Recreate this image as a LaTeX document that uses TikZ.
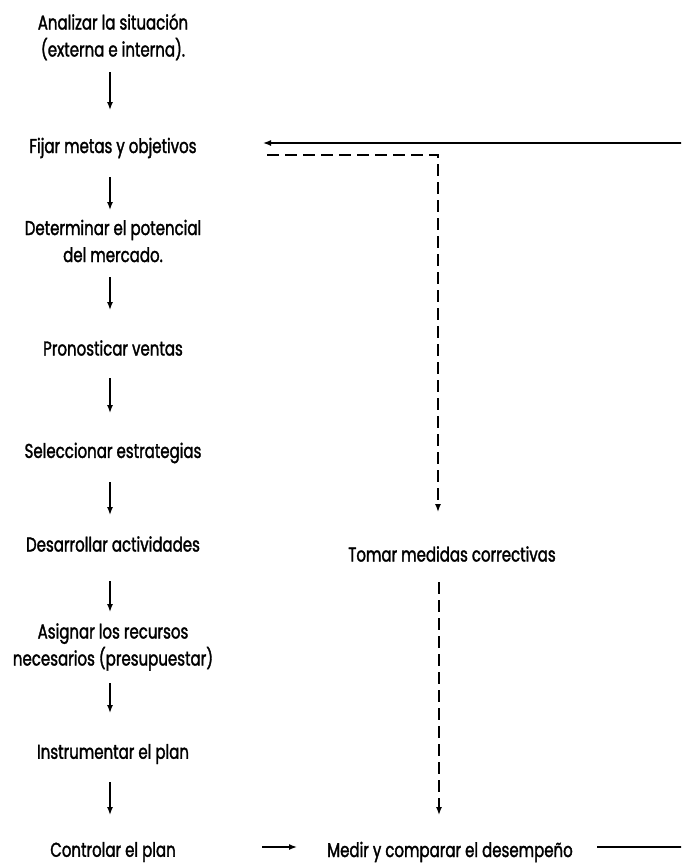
\documentclass[tikz,border=0pt]{standalone}
\usepackage{fontspec}
\setmainfont[FakeStretch=0.75,FakeBold=1.6]{Poppins}
\usetikzlibrary{arrows.meta,calc}
\begin{document}
\begin{tikzpicture}[x=1pt,y=-1pt,
  lbl/.style={inner sep=0pt, align=center, font=\fontsize{20}{27}\selectfont},
  flow/.style={-{Latex[length=8pt,width=6pt]}, line width=1.4pt},
  dashline/.style={line width=1.4pt, dash pattern=on 12pt off 6pt}]
\clip (0,0) rectangle (681,865);
\fill[white] (0,0) rectangle (681,865);
% left column
\node[lbl] (a1) at (113,37) {Analizar la situación\\(externa e interna).};
\node[lbl] (a2) at (113,148) {Fijar metas y objetivos};
\node[lbl] (a3) at (113,241) {Determinar el potencial\\del mercado.};
\node[lbl] (a4) at (113,348) {Pronosticar ventas};
\node[lbl] (a5) at (113,453) {Seleccionar estrategias};
\node[lbl] (a6) at (113,544) {Desarrollar actividades};
\node[lbl] (a7) at (113,647) {Asignar los recursos\\necesarios (presupuestar)};
\node[lbl] (a8) at (113,754) {Instrumentar el plan};
\node[lbl] (a9) at (113,852) {Controlar el plan};
% right column
\node[lbl] (t1) at (452,554) {Tomar medidas correctivas};
\node[lbl] (m1) at (450,852) {Medir y comparar el desempeño};
% main flow
\draw[flow] ($(a1.center)+(-3,35)$) -- ($(a2.center)+(-3,-38)$);
\draw[flow] ($(a2.center)+(-3,29)$) -- ($(a3.center)+(-3,-31)$);
\draw[flow] ($(a3.center)+(-3,36)$) -- ($(a4.center)+(-3,-38)$);
\draw[flow] ($(a4.center)+(-3,30)$) -- ($(a5.center)+(-3,-40)$);
\draw[flow] ($(a5.center)+(-3,29)$) -- ($(a6.center)+(-3,-29)$);
\draw[flow] ($(a6.center)+(-3,37)$) -- ($(a7.center)+(-3,-35)$);
\draw[flow] ($(a7.center)+(-3,36)$) -- ($(a8.center)+(-3,-41)$);
\draw[flow] ($(a8.center)+(-3,28)$) -- ($(a9.center)+(-3,-37)$);
% control -> measure
\draw[flow] ($(a9.center)+(149,-5)$) -- ($(m1.center)+(-153,-5)$);
% feedback solid
\coordinate (fbr) at (700,847);
\draw[flow] ($(m1.center)+(147,-5)$) -- (fbr) |- ($(a2.center)+(150,-5)$);
% corrective dashed
\draw[dashline,-{Latex[length=8pt,width=6pt]}] ($(a2.center)+(154,7)$) -| ($(t1.center)+(-14,-42)$);
\draw[dashline,-{Latex[length=8pt,width=6pt]}] ($(t1.center)+(-13,28)$) -- ($(m1.center)+(-11,-37)$);
\end{tikzpicture}
\end{document}
